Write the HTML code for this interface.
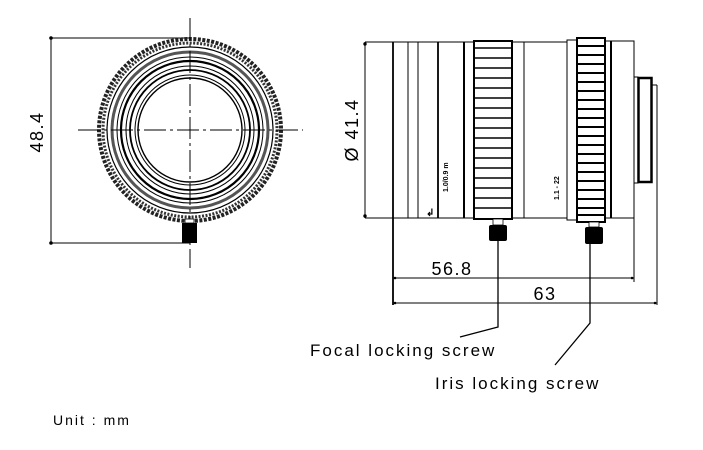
<!DOCTYPE html>
<html><head><meta charset="utf-8"><style>
html,body{margin:0;padding:0;background:#fff;}
svg{display:block;font-family:"Liberation Sans",Arial,sans-serif;}
</style></head><body>
<svg width="703" height="450" viewBox="0 0 703 450" xmlns="http://www.w3.org/2000/svg">
<!-- FRONT VIEW -->
<g fill="none" stroke="#000">
<line x1="51" y1="38" x2="51" y2="243" stroke-width="1"/>
<line x1="51" y1="38" x2="190" y2="38" stroke-width="1"/>
<line x1="51" y1="243" x2="190" y2="243" stroke-width="1"/>
<circle cx="51" cy="38" r="1.3" fill="#000"/>
<circle cx="51" cy="243" r="1.3" fill="#000"/>
<circle cx="190" cy="130" r="91" stroke-width="4" stroke-dasharray="3 1.5" stroke="#222"/>
<circle cx="190" cy="130" r="87" stroke-width="3" stroke-dasharray="2 1.5" stroke="#333"/>
<circle cx="190" cy="130" r="83" stroke-width="1.2"/>
<circle cx="190" cy="130" r="78" stroke-width="3" stroke="#555"/>
<circle cx="190" cy="130" r="73" stroke-width="1"/>
<circle cx="190" cy="130" r="69" stroke-width="2.2"/>
<circle cx="190" cy="130" r="64" stroke-width="1"/>
<circle cx="190" cy="130" r="60" stroke-width="1.8"/>
<circle cx="190" cy="130" r="55" stroke-width="1"/>
<circle cx="190" cy="130" r="52" stroke-width="1.4"/>
<line x1="78" y1="130" x2="303" y2="130" stroke-width="1" stroke-dasharray="22 4 3 4"/>
<line x1="190" y1="18" x2="190" y2="268" stroke-width="1" stroke-dasharray="22 4 3 4"/>
</g>
<rect x="182" y="223" width="15" height="20" fill="#000"/>
<rect x="185" y="219" width="9" height="4" fill="#fff" stroke="#000" stroke-width="0.8"/>
<text transform="translate(43,132) rotate(-90)" text-anchor="middle" font-size="18" letter-spacing="1.5">48.4</text>

<!-- SIDE VIEW -->
<g fill="none" stroke="#000">
<line x1="365" y1="42" x2="365" y2="218" stroke-width="1"/>
<circle cx="365" cy="44" r="1.2" fill="#000"/>
<circle cx="365" cy="216" r="1.2" fill="#000"/>
<line x1="365" y1="42" x2="474" y2="42" stroke-width="1"/>
<line x1="365" y1="218" x2="474" y2="218" stroke-width="1"/>
<line x1="512" y1="42" x2="567" y2="42" stroke-width="1"/>
<line x1="512" y1="218" x2="567" y2="218" stroke-width="1"/>
<rect x="567" y="40" width="10" height="180" stroke-width="1"/>
<rect x="605" y="41" width="29" height="177" stroke-width="1"/>
<line x1="393" y1="42" x2="393" y2="305" stroke-width="1.8"/>
<line x1="408" y1="42" x2="408" y2="218" stroke-width="1"/>
<line x1="418" y1="42" x2="418" y2="218" stroke-width="1"/>
<line x1="438" y1="42" x2="438" y2="218" stroke-width="1.8"/>
<line x1="464" y1="42" x2="464" y2="218" stroke-width="2"/>
<line x1="524" y1="42" x2="524" y2="218" stroke-width="1"/>
<line x1="611" y1="41" x2="611" y2="218" stroke-width="2"/>
<line x1="634" y1="218" x2="634" y2="282" stroke-width="1"/>
<rect x="474" y="41" width="38" height="178" stroke-width="2"/>
<rect x="577" y="38" width="28" height="184" stroke-width="2"/>
<rect x="634" y="77" width="4" height="106" stroke-width="1"/>
<rect x="638.5" y="78" width="13" height="104" stroke-width="2.5"/>
<line x1="657" y1="85" x2="657" y2="305" stroke-width="1"/>
<line x1="652" y1="85" x2="657" y2="85" stroke-width="1"/>
<line x1="393" y1="278" x2="634" y2="278" stroke-width="1"/>
<line x1="393" y1="303" x2="657" y2="303" stroke-width="1"/>
<polyline points="498,241 498,327 460,337" stroke-width="1.3"/>
<polyline points="590,244 590,323 555,365" stroke-width="1.3"/>
</g>
<g stroke="#000" stroke-width="1.6">
<line x1="475" y1="48" x2="511" y2="48"/><line x1="475" y1="58" x2="511" y2="58"/><line x1="475" y1="68" x2="511" y2="68"/><line x1="475" y1="78" x2="511" y2="78"/><line x1="475" y1="88" x2="511" y2="88"/><line x1="475" y1="98" x2="511" y2="98"/><line x1="475" y1="108" x2="511" y2="108"/><line x1="475" y1="118" x2="511" y2="118"/><line x1="475" y1="128" x2="511" y2="128"/><line x1="475" y1="138" x2="511" y2="138"/><line x1="475" y1="148" x2="511" y2="148"/><line x1="475" y1="158" x2="511" y2="158"/><line x1="475" y1="168" x2="511" y2="168"/><line x1="475" y1="178" x2="511" y2="178"/><line x1="475" y1="188" x2="511" y2="188"/><line x1="475" y1="198" x2="511" y2="198"/><line x1="475" y1="208" x2="511" y2="208"/>
</g>
<g stroke="#000" stroke-width="2">
<line x1="578" y1="46" x2="604" y2="46"/><line x1="578" y1="55" x2="604" y2="55"/><line x1="578" y1="64" x2="604" y2="64"/><line x1="578" y1="73" x2="604" y2="73"/><line x1="578" y1="82" x2="604" y2="82"/><line x1="578" y1="91" x2="604" y2="91"/><line x1="578" y1="100" x2="604" y2="100"/><line x1="578" y1="109" x2="604" y2="109"/><line x1="578" y1="118" x2="604" y2="118"/><line x1="578" y1="127" x2="604" y2="127"/><line x1="578" y1="136" x2="604" y2="136"/><line x1="578" y1="145" x2="604" y2="145"/><line x1="578" y1="154" x2="604" y2="154"/><line x1="578" y1="163" x2="604" y2="163"/><line x1="578" y1="172" x2="604" y2="172"/><line x1="578" y1="181" x2="604" y2="181"/><line x1="578" y1="190" x2="604" y2="190"/><line x1="578" y1="199" x2="604" y2="199"/><line x1="578" y1="208" x2="604" y2="208"/><line x1="578" y1="215" x2="604" y2="215"/>
</g>
<rect x="489" y="225" width="18" height="16" rx="2" fill="#000"/>
<rect x="493" y="219" width="10" height="6" fill="#fff" stroke="#000" stroke-width="0.8"/>
<rect x="585" y="227" width="18" height="17" rx="2" fill="#000"/>
<rect x="589" y="222" width="10" height="5" fill="#fff" stroke="#000" stroke-width="0.8"/>
<circle cx="395" cy="278" r="1.3"/><circle cx="632" cy="278" r="1.3"/>
<circle cx="395" cy="303" r="1.3"/><circle cx="655" cy="303" r="1.3"/>
<text transform="translate(448,192) rotate(-90)" font-size="7" font-weight="bold">1.0/0.9 m</text>
<text transform="translate(559,200) rotate(-90)" font-size="7" font-weight="bold">1.1 - 22</text>
<text x="426" y="216" font-size="10" font-weight="bold">↲</text>
<text transform="translate(358,130) rotate(-90)" text-anchor="middle" font-size="18" letter-spacing="1.5">Ø 41.4</text>
<text x="452" y="275" text-anchor="middle" font-size="18" letter-spacing="1.5">56.8</text>
<text x="545" y="300" text-anchor="middle" font-size="18" letter-spacing="1.5">63</text>
<text x="310" y="356" font-size="17" letter-spacing="2">Focal locking screw</text>
<text x="435" y="389" font-size="17" letter-spacing="2">Iris locking screw</text>
<text x="53" y="425" font-size="14" letter-spacing="2">Unit : mm</text>
</svg>
</body></html>
